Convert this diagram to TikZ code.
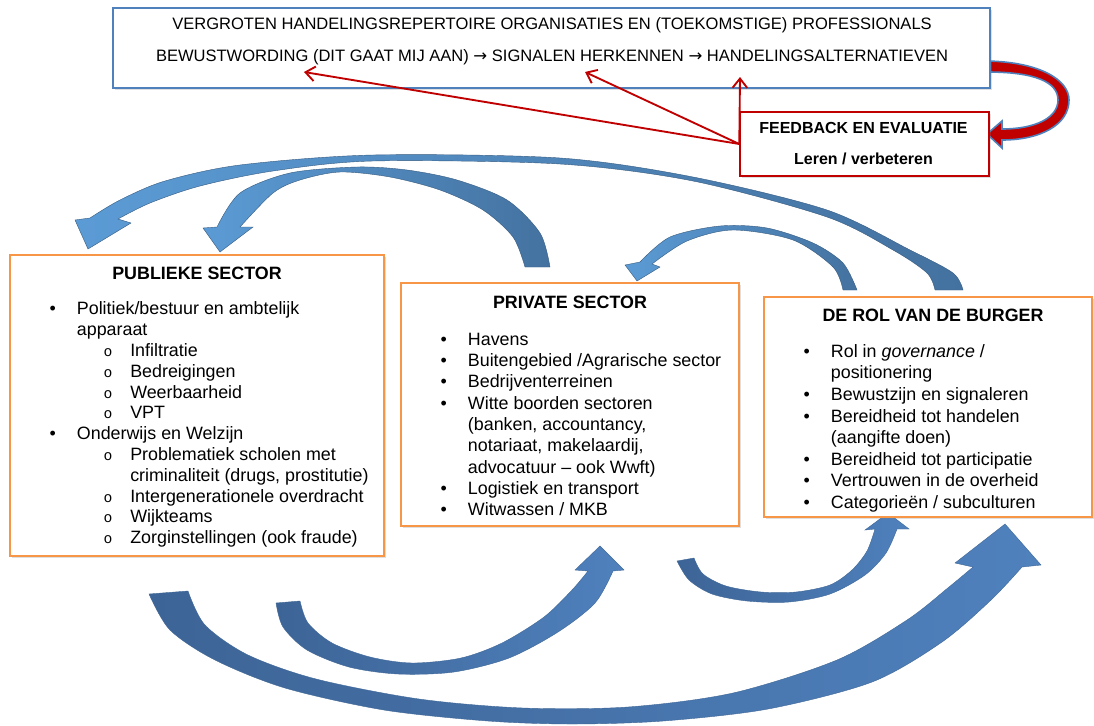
\documentclass[tikz,border=0pt]{standalone}
\usepackage{fontspec}
\setmainfont{Liberation Sans}
\setmonofont{Liberation Mono}
\newfontfamily\symfont{DejaVu Sans}
\usetikzlibrary{positioning,arrows.meta,shadows}
\definecolor{orng}{RGB}{247,150,70}
\definecolor{bluebox}{RGB}{79,129,189}
\definecolor{darkred}{RGB}{192,0,0}
\definecolor{lblue}{RGB}{91,155,213}
\definecolor{dblue}{RGB}{68,114,160}
\definecolor{mblue}{RGB}{79,129,189}
\definecolor{nblue}{RGB}{61,100,150}
\newcommand{\itm}{\strut\makebox[50pt][l]{\hspace{29.5pt}\textbullet}}
\newcommand{\cnt}{\strut\hspace*{50pt}}
\newcommand{\sitm}{\strut\makebox[90pt][l]{\hspace{70pt}{\fontsize{11pt}{11pt}\ttfamily o}}}
\newcommand{\scnt}{\strut\hspace*{90pt}}
\newcommand{\rarr}{{\symfont →}}

\begin{document}
\begin{tikzpicture}[x=0.75pt,y=-0.75pt,
        box/.style={draw=#1, fill=white, line width=1.5pt, inner sep=0pt,
                        drop shadow={shadow xshift=1.5pt,shadow yshift=-1.5pt,opacity=.25}},
        hd/.style={font=\fontsize{13.4pt}{15.6pt}\selectfont\bfseries},
        lst/.style={anchor=north west, inner sep=0pt, align=left,
                        font=\fontsize{13.4pt}{#1}\selectfont},
        tt/.style={font=\fontsize{12.4pt}{14pt}\selectfont, inner sep=0pt},
        fbt/.style={font=\fontsize{12pt}{14pt}\selectfont\bfseries, inner sep=0pt},
        band/.style 2 args={draw=#2!80!black, line width=0.3pt,
                        left color=#1, right color=#2},
        redln/.style={darkred, line width=1.4pt,
                        -{Straight Barb[length=7pt,width=11pt]}},
        redband/.style={fill=darkred, draw=bluebox, line width=1.2pt}]
    \path[use as bounding box, fill=white] (0,0) rectangle (1094,725);

    \path[band={lblue}{dblue}] (88,249) -- (75,220) -- plot[smooth] coordinates
        {(90,218) (120,200) (165,181) (240,165) (373,155) (560,158) (693,177) (827,210) (910,250) (953,273) (963,290)}
        -- plot[smooth] coordinates
        {(935,290) (927,273) (893,250) (827,217) (693,181) (560,164) (373,161) (273,171) (200,186) (150,203) (118,219)}
        -- (131,223) -- cycle;
    \path[band={lblue}{dblue}] (220,252) -- (203,228) -- plot[smooth] coordinates
        {(217,227) (240,193) (290,173) (357,167) (407,170) (457,180) (507,200) (540,233) (550,267)}
        -- plot[smooth] coordinates
        {(525,267) (513,237) (483,210) (440,190) (390,177) (340,172) (300,180) (273,193) (240,227)}
        -- (253,227) -- cycle;
    \path[band={lblue}{dblue}] (637,281) -- (625,265) -- plot[smooth] coordinates
        {(640,262) (670,237) (720,226) (767,228) (813,243) (843,263) (857,290)}
        -- plot[smooth] coordinates
        {(843,290) (833,267) (793,240) (733,230) (687,241) (652,264)}
        -- (660,267) -- cycle;
    \path[band={nblue}{mblue}] (1005,524) -- (1041,565) -- plot[smooth] coordinates
        {(1022,567) (991,600) (942,642) (872,682) (768,709) (663,721) (572,724) (488,721) (384,710) (285,688) (215,660) (170,630) (149,594)}
        -- plot[smooth] coordinates
        {(188,591) (205,625) (248,655) (316,679) (419,699) (523,708) (628,707) (733,693) (837,660) (907,620) (949,587) (973,567)}
        -- (955,563) -- cycle;
    \path[band={nblue}{mblue}] (600,546) -- (624,570) -- plot[smooth] coordinates
        {(613,571) (595,603) (558,632) (509,658) (454,672) (398,674) (349,667) (307,650) (283,627) (276,603)}
        -- plot[smooth] coordinates
        {(300,601) (308,623) (332,643) (370,657) (412,663) (461,658) (502,643) (544,617) (572,590) (588,571)}
        -- (575,570) -- cycle;
    \path[band={nblue}{mblue}] (888,513) -- (909,529) -- plot[smooth] coordinates
        {(897,529) (886,553) (865,575) (830,594) (789,602) (747,601) (712,594) (689,580) (677,561)}
        -- plot[smooth] coordinates
        {(694,558) (703,574) (726,586) (761,592) (796,592) (830,585) (852,570) (867,551) (875,529)}
        -- (865,530) -- cycle;
    \path[redband] (987,61) .. controls (1040,62) and (1069,80) .. (1069,100)
        .. controls (1069,125) and (1040,140) .. (1002,140) -- (1002,148) -- (987,134)
        -- (1002,121) -- (1002,129) .. controls (1035,129) and (1058,118) .. (1058,100)
        .. controls (1058,82) and (1035,72) .. (987,72) -- cycle;

    \node[box=bluebox, line width=1.8pt, minimum width=657.75pt, minimum height=60pt] (top) at (551.5,48) {};
    \node[tt] (top1) at (552,25) {VERGROTEN HANDELINGSREPERTOIRE ORGANISATIES EN (TOEKOMSTIGE) PROFESSIONALS};
    \node[tt] (top2) at (552,57) {BEWUSTWORDING (DIT GAAT MIJ AAN) \rarr{} SIGNALEN HERKENNEN \rarr{} HANDELINGSALTERNATIEVEN};
    \coordinate (s1) at (304,72);
    \coordinate (s2) at (585,72);
    \coordinate (s3) at (740,77);

    \node[box=darkred, line width=1.1pt, minimum width=186.75pt, minimum height=48pt] (fb) at (864.5,144) {};
    \node[fbt] (fb1) at (863.5,128) {FEEDBACK EN EVALUATIE};
    \node[fbt] (fb2) at (863.5,159) {Leren / verbeteren};
    \draw[redln] (fb.west) -- (s1);
    \draw[redln] (fb.west) -- (s2);
    \draw[redln] (fb.west) -- (s3);

    \node[box=orng, minimum width=280.5pt, minimum height=225.75pt] (pub) at (197,405.5) {};
    \node[hd] (pubh) at (197,273) {PUBLIEKE SECTOR};
    \node[lst=15.6pt] (publ) at (10,300) {\itm Politiek/bestuur en ambtelijk\\
        \cnt apparaat\\
        \sitm Infiltratie\\
        \sitm Bedreigingen\\
        \sitm Weerbaarheid\\
        \sitm VPT\\
        \itm Onderwijs en Welzijn\\
        \sitm Problematiek scholen met\\
        \scnt criminaliteit (drugs, prostitutie)\\
        \sitm Intergenerationele overdracht\\
        \sitm Wijkteams\\
        \sitm Zorginstellingen (ook fraude)};

    \node[box=orng, minimum width=253.5pt, minimum height=182.25pt] (priv) at (570,404.5) {};
    \node[hd] (privh) at (570,302) {PRIVATE SECTOR};
    \node[lst=16pt] (privl) at (401,330) {\itm Havens\\
        \itm Buitengebied /Agrarische sector\\
        \itm Bedrijventerreinen\\
        \itm Witte boorden sectoren\\
        \cnt (banken, accountancy,\\
        \cnt notariaat, makelaardij,\\
        \cnt advocatuur – ook Wwft)\\
        \itm Logistiek en transport\\
        \itm Witwassen / MKB};

    \node[box=orng, minimum width=246pt, minimum height=165pt] (burg) at (928,407) {};
    \node[hd] (burgh) at (933,315) {DE ROL VAN DE BURGER};
    \node[lst=16.2pt] (burgl) at (764,342) {\itm Rol in \textit{governance} /\\
        \cnt positionering\\
        \itm Bewustzijn en signaleren\\
        \itm Bereidheid tot handelen\\
        \cnt (aangifte doen)\\
        \itm Bereidheid tot participatie\\
        \itm Vertrouwen in de overheid\\
        \itm Categorieën / subculturen};
\end{tikzpicture}
\end{document}
